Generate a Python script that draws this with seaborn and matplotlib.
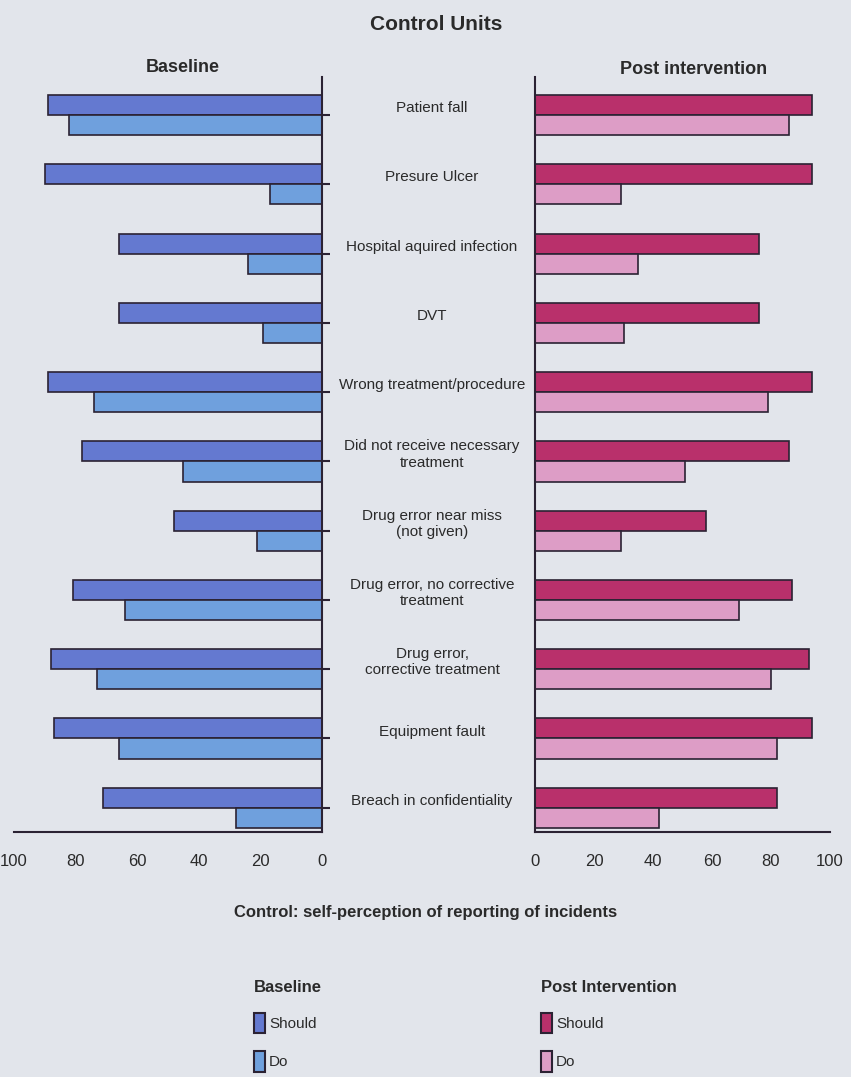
import matplotlib
matplotlib.use("Agg")
import matplotlib.pyplot as plt
import matplotlib.transforms as mtransforms
from matplotlib import font_manager
from matplotlib.patches import Patch
import pandas as pd
import seaborn as sns

# Incident categories (top to bottom) and percentage of staff who should / do report
incidents = [
    "Patient fall",
    "Presure Ulcer",
    "Hospital aquired infection",
    "DVT",
    "Wrong treatment/procedure",
    "Did not receive necessary\ntreatment",
    "Drug error near miss\n(not given)",
    "Drug error, no corrective\ntreatment",
    "Drug error,\ncorrective treatment",
    "Equipment fault",
    "Breach in confidentiality",
]
baseline_should = [89, 90, 66, 66, 89, 78, 48, 81, 88, 87, 71]
baseline_do = [82, 17, 24, 19, 74, 45, 21, 64, 73, 66, 28]
post_should = [94, 94, 76, 76, 94, 86, 58, 87, 93, 94, 82]
post_do = [86, 29, 35, 30, 79, 51, 29, 69, 80, 82, 42]
measures = ["Should", "Do"]
x_ticks = [0, 20, 40, 60, 80, 100]

BG = "#e2e5eb"
EDGE = "#2b2233"
base_colors = {"Should": "#6479d0", "Do": "#6fa0dd"}
post_colors = {"Should": "#b9306b", "Do": "#dd9dc6"}

sns.set_theme(style="white")
available = {f.name for f in font_manager.fontManager.ttflist}
narrow = "Liberation Sans Narrow" if "Liberation Sans Narrow" in available else "Liberation Sans"
plt.rcParams["font.family"] = [narrow, "DejaVu Sans"]
plt.rcParams["text.color"] = "#2a2a2a"


def long_frame(should, do):
    return pd.DataFrame({
        "incident": incidents * 2,
        "measure": ["Should"] * len(incidents) + ["Do"] * len(incidents),
        "value": list(should) + list(do),
    })


fig = plt.figure(figsize=(8.51, 10.77), dpi=100, facecolor=BG)
W, H = 851, 1077


def axes_px(x0, y0, x1, y1):
    return fig.add_axes([x0 / W, 1 - y1 / H, (x1 - x0) / W, (y1 - y0) / H])


ax_l = axes_px(14, 77, 322, 832)
ax_r = axes_px(535, 77, 830, 832)

for ax, df, pal in [
    (ax_l, long_frame(baseline_should, baseline_do), base_colors),
    (ax_r, long_frame(post_should, post_do), post_colors),
]:
    sns.barplot(
        data=df, y="incident", x="value", hue="measure", order=incidents,
        hue_order=measures, palette=pal, orient="h", width=0.58, saturation=1,
        edgecolor=EDGE, linewidth=1.2, ax=ax, legend=False, errorbar=None,
    )
    ax.set_facecolor("none")
    ax.set_ylim(len(incidents) - 0.65, -0.55)
    ax.set_xticks(x_ticks)
    ax.set_xlabel("")
    ax.set_ylabel("")
    ax.set_yticks(range(len(incidents)))
    ax.set_yticklabels([])
    ax.tick_params(axis="x", direction="in", length=6, width=1.2, color=EDGE,
                   labelsize=12, pad=16, labelcolor="#2a2a2a")
    ax.tick_params(axis="y", direction="out", length=6, width=1.5, color=EDGE)
    for s in ax.spines.values():
        s.set_color(EDGE)
        s.set_linewidth(1.5)
    ax.spines["top"].set_visible(False)

ax_l.set_xlim(100, 0)
ax_l.spines["left"].set_visible(False)
ax_l.yaxis.tick_right()
ax_l.tick_params(axis="y", left=False, right=True, labelleft=False, labelright=False)

ax_r.set_xlim(0, 100)
ax_r.spines["right"].set_visible(False)

# Category names centred in the gap between the two panels
trans = mtransforms.blended_transform_factory(fig.transFigure, ax_l.transData)
for i, name in enumerate(incidents):
    fig.text(432 / W, i - 0.1, name, transform=trans, ha="center", va="center",
             fontsize=11, linespacing=1.2)

# Titles
fig.text(436 / W, 1 - 25 / H, "Control Units", ha="center", va="center",
         fontsize=15, fontweight="bold")
fig.text(183 / W, 1 - 68 / H, "Baseline", ha="center", va="center",
         fontsize=13, fontweight="bold")
fig.text(694 / W, 1 - 69 / H, "Post intervention", ha="center", va="center",
         fontsize=13, fontweight="bold")
fig.text(426 / W, 1 - 912 / H, "Control: self-perception of reporting of incidents",
         ha="center", va="center", fontsize=12, fontweight="bold")

# Legends
for title, pal, x0 in [("Baseline", base_colors, 246), ("Post Intervention", post_colors, 533)]:
    handles = [Patch(facecolor=pal[m], edgecolor=EDGE, linewidth=1.5, label=m) for m in measures]
    fig.legend(handles=handles, title=title, loc="upper left",
               bbox_to_anchor=(x0 / W, 1 - 972 / H), frameon=False,
               fontsize=11, title_fontproperties={"weight": "bold", "size": 12},
               handlelength=0.75, handleheight=1.65, handletextpad=0.25,
               labelspacing=1.2, borderpad=0, alignment="left")

fig.savefig("out.png", dpi=100, facecolor=BG)
